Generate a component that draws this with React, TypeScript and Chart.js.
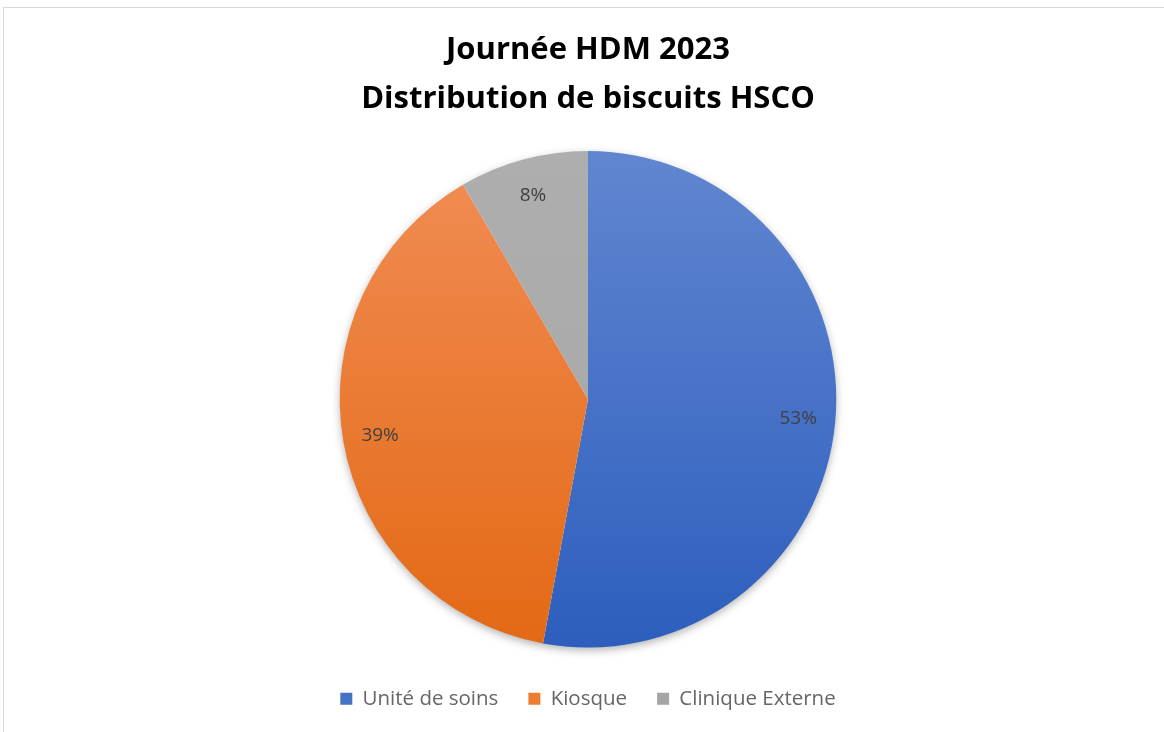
import React, { useEffect, useRef } from "react";
import { Chart, registerables } from "chart.js";

Chart.register(...registerables);

const categories = ["Unité de soins", "Kiosque", "Clinique Externe"];
const values = [52.9, 38.7, 8.4];
const percentLabels = ["53%", "39%", "8%"];
const titleLines = ["Journée HDM 2023", "Distribution de biscuits HSCO"];
const gradTop = ["#6186d1", "#f18d55", "#aeaeae"];
const gradBottom = ["#2d5ebd", "#e36914", "#a6a6a6"];
const legendColors = ["#4472c4", "#ed7d31", "#a5a5a5"];

const shadowPlugin = {
  id: "pieShadow",
  beforeDatasetsDraw(chart: any) {
    const meta = chart.getDatasetMeta(0);
    const arc = meta.data[0];
    if (!arc) return;
    const { x, y, outerRadius } = arc.getProps(["x", "y", "outerRadius"], true);
    const ctx = chart.ctx;
    ctx.save();
    ctx.shadowColor = "rgba(0,0,0,0.35)";
    ctx.shadowBlur = 10;
    ctx.shadowOffsetX = 0;
    ctx.shadowOffsetY = 3;
    ctx.fillStyle = "#ffffff";
    ctx.beginPath();
    ctx.arc(x, y, outerRadius - 1, 0, Math.PI * 2);
    ctx.fill();
    ctx.restore();
  },
};

const labelPlugin = {
  id: "pctLabels",
  afterDatasetsDraw(chart: any) {
    const meta = chart.getDatasetMeta(0);
    const ctx = chart.ctx;
    ctx.save();
    ctx.fillStyle = "#404040";
    ctx.font = "19px 'Open Sans'";
    ctx.textAlign = "center";
    ctx.textBaseline = "middle";
    meta.data.forEach((arc: any, i: number) => {
      const { x, y, startAngle, endAngle, outerRadius } = arc.getProps(
        ["x", "y", "startAngle", "endAngle", "outerRadius"],
        true
      );
      const mid = (startAngle + endAngle) / 2;
      const r = outerRadius * 0.85;
      ctx.fillText(percentLabels[i], x + Math.cos(mid) * r, y + Math.sin(mid) * r);
    });
    ctx.restore();
  },
};

export default function App() {
  const ref = useRef<HTMLCanvasElement>(null);
  useEffect(() => {
    if (!ref.current) return;
    const chart = new Chart(ref.current, {
      type: "pie",
      data: {
        labels: categories,
        datasets: [
          {
            data: values,
            borderWidth: 0,
            backgroundColor: (c: any) => {
              const area = c.chart.chartArea;
              const i = c.dataIndex;
              if (!area) return legendColors[i];
              const g = c.chart.ctx.createLinearGradient(0, area.top, 0, area.bottom);
              g.addColorStop(0, gradTop[i]);
              g.addColorStop(1, gradBottom[i]);
              return g;
            },
          },
        ],
      },
      options: {
        animation: false,
        responsive: false,
        layout: { padding: { left: 12, right: 0, top: 0, bottom: 13 } },
        plugins: {
          tooltip: { enabled: false },
          title: {
            display: true,
            text: titleLines,
            color: "#000000",
            font: { family: "'Open Sans'", size: 31, weight: "bold", lineHeight: 1.58 },
            padding: { top: 26, bottom: 27 },
          },
          legend: {
            position: "bottom",
            title: {
              display: true,
              text: " ",
              font: { size: 1, lineHeight: 1 },
              padding: { top: 10, bottom: 0 },
            },
            labels: {
              boxWidth: 12,
              boxHeight: 12,
              padding: 30,
              color: "#595959",
              font: { family: "'Open Sans'", size: 20.5 },
              generateLabels: () =>
                categories.map((t, i) => ({
                  text: t,
                  fillStyle: legendColors[i],
                  strokeStyle: legendColors[i],
                  lineWidth: 0,
                  hidden: false,
                  index: i,
                })),
            },
          },
        },
      },
      plugins: [shadowPlugin, labelPlugin],
    });
    return () => chart.destroy();
  }, []);
  return (
    <div style={{ position: "fixed", left: 0, top: 0, width: 1164, height: 732, overflow: "hidden", background: "#fff" }}>
      <div
        style={{
          position: "absolute",
          left: 3,
          top: 7,
          width: 1200,
          height: 800,
          border: "1px solid #d9d9d9",
        }}
      />
      <canvas ref={ref} width={1164} height={732} style={{ position: "absolute", left: 0, top: 0 }} />
    </div>
  );
}
